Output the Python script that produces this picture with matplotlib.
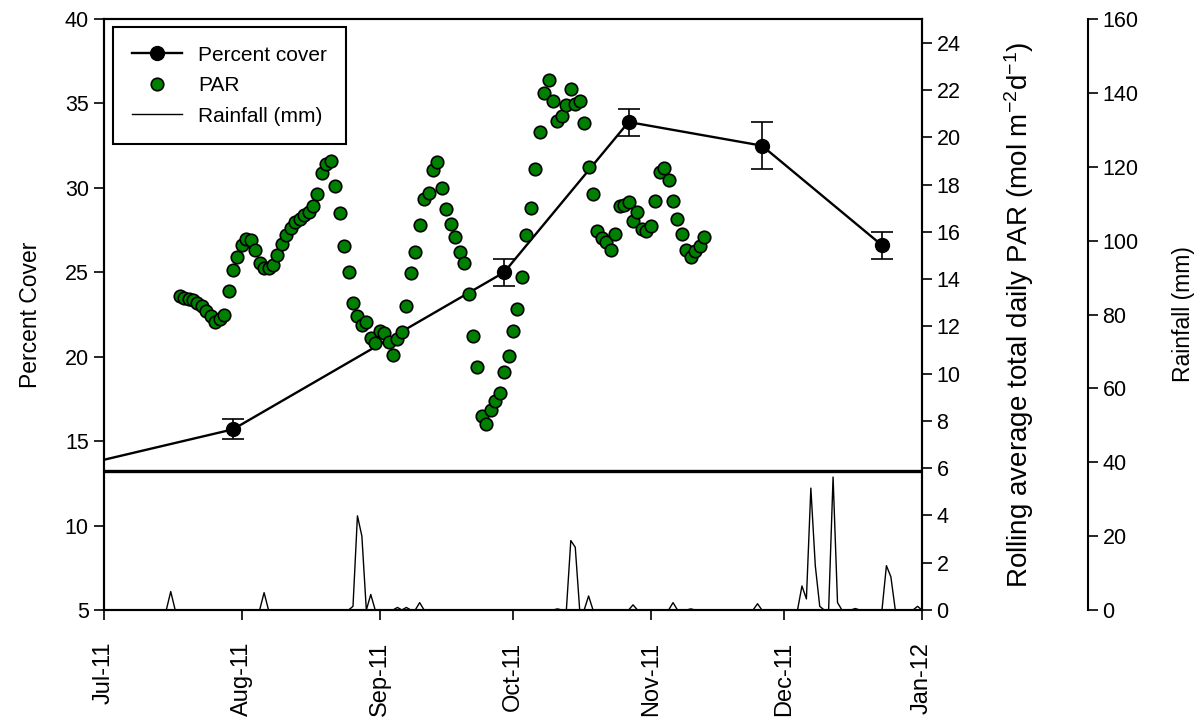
import pandas as pd
import numpy as np
import matplotlib
matplotlib.use('Agg')
import matplotlib.pyplot as plt
import matplotlib.dates as mdates
from matplotlib.lines import Line2D

plt.rcParams['font.family'] = ['Liberation Sans', 'DejaVu Sans']
plt.rcParams['mathtext.default'] = 'regular'

# ── DATA ──────────────────────────────────────────────
# Percent cover (first value only used for the line entering from the left)
cover_dates = ['2011-07-01', '2011-07-30', '2011-09-29', '2011-10-27', '2011-11-26', '2011-12-23']
cover = [13.9, 15.7, 25.0, 33.9, 32.5, 26.6]
cover_err = [0.0, 0.6, 0.8, 0.8, 1.4, 0.8]

# Rolling average total daily PAR, one value per day from 18 Jul 2011
par_start = '2011-07-18'
par = [13.3, 13.2, 13.15, 13.1, 13.0, 12.85, 12.65, 12.45, 12.2, 12.3,
       12.5, 13.5, 14.4, 14.95, 15.45, 15.7, 15.65, 15.25, 14.7, 14.45,
       14.45, 14.6, 15.0, 15.5, 15.85, 16.15, 16.4, 16.55, 16.7, 16.85,
       17.1, 17.6, 18.5, 18.85, 19.0, 17.95, 16.8, 15.4, 14.3, 13.0,
       12.45, 12.05, 12.2, 11.5, 11.3, 11.8, 11.7, 11.35, 10.8, 11.45,
       11.75, 12.85, 14.25, 15.15, 16.3, 17.4, 17.65, 18.6, 18.95, 17.85,
       16.95, 16.35, 15.8, 15.15, 14.7, 13.35, 11.6, 10.3, 8.2, 7.85,
       8.45, 8.85, 9.2, 10.05, 10.75, 11.8, 12.75, 14.1, 15.85, 17.0,
       18.65, 20.2, 21.85, 22.4, 21.55, 20.7, 20.9, 21.35, 22.05, 21.4,
       21.55, 20.6, 18.75, 17.6, 16.05, 15.75, 15.55, 15.25, 15.9, 17.1,
       17.15, 17.25, 16.45, 16.85, 16.1, 16.05, 16.25, 17.3, 18.55, 18.7,
       18.2, 17.3, 16.55, 15.9, 15.25, 14.95, 15.2, 15.4, 15.8]

# Daily rainfall (mm): days with rain, all other days are zero
rain_dates = ['2011-07-16', '2011-08-06', '2011-08-26', '2011-08-27', '2011-08-28',
              '2011-08-30', '2011-09-05', '2011-09-07', '2011-09-10', '2011-10-11',
              '2011-10-14', '2011-10-15', '2011-10-18', '2011-10-28', '2011-11-06',
              '2011-11-10', '2011-11-25', '2011-12-05', '2011-12-06', '2011-12-07',
              '2011-12-08', '2011-12-09', '2011-12-12', '2011-12-13', '2011-12-17',
              '2011-12-24', '2011-12-25', '2011-12-31']
rain_mm = [5.0, 4.7, 1.0, 25.5, 20.0,
           4.2, 0.7, 0.7, 2.0, 0.3,
           18.8, 17.0, 3.8, 1.4, 2.0,
           0.3, 1.7, 6.5, 3.0, 33.0,
           12.0, 1.0, 36.0, 2.0, 0.4,
           12.0, 9.0, 1.0]

# ── PREP ──────────────────────────────────────────────
cover_dates = pd.to_datetime(cover_dates)
par_dates = pd.date_range(par_start, periods=len(par), freq='D')
all_days = pd.date_range('2011-07-01', '2012-01-01', freq='D')
rain = pd.Series(rain_mm, index=pd.to_datetime(rain_dates)).reindex(all_days, fill_value=0.0)

TICK_FS = 15.5
LABEL_FS = 16.5

# ── PLOT ──────────────────────────────────────────────
fig = plt.figure(figsize=(12.03, 7.18), dpi=100)
ax = fig.add_axes([0.0865, 0.1504, 0.6799, 0.8231])
ax2 = ax.twinx()
ax3 = ax.twinx()

# percent cover
ax.plot(cover_dates, cover, color='black', lw=1.7, marker='o', markersize=10,
        markevery=list(range(1, len(cover))), zorder=3)
ax.errorbar(cover_dates[1:], cover[1:], yerr=cover_err[1:], fmt='none',
            ecolor='black', elinewidth=1.2, capsize=8, capthick=1.2, zorder=3)
ax.axhline(13.25, color='black', lw=2.4, zorder=2)

ax.set_ylim(5, 40)
ax.set_yticks(range(5, 41, 5))
ax.set_ylabel('Percent Cover', fontsize=LABEL_FS, labelpad=16)
ax.set_xlim(pd.Timestamp('2011-07-01'), pd.Timestamp('2012-01-01'))
ax.xaxis.set_major_locator(mdates.MonthLocator())
ax.xaxis.set_major_formatter(mdates.DateFormatter('%b-%y'))
ax.tick_params(axis='both', direction='out', length=7, width=1.2, labelsize=TICK_FS, pad=4)
ax.tick_params(axis='x', pad=16, labelsize=17)
plt.setp(ax.get_xticklabels(), rotation=90, ha='center', va='top')
for s in ax.spines.values():
    s.set_linewidth(1.5)

# PAR
ax2.plot(par_dates, par, linestyle='none', marker='o', markersize=9,
         markerfacecolor='#008000', markeredgecolor='black', markeredgewidth=1.2)
ax2.set_ylim(0, 25)
ax2.set_yticks(range(0, 25, 2))
ax2.tick_params(axis='y', direction='out', length=7, width=1.2, labelsize=TICK_FS)
ax2.set_ylabel('Rolling average total daily PAR (mol m$^{-2}$d$^{-1}$)',
               fontsize=20, labelpad=30)
for s in ax2.spines.values():
    s.set_linewidth(1.5)

# rainfall
ax3.plot(rain.index, rain.values, color='black', lw=1.0)
ax3.set_ylim(0, 160)
ax3.set_yticks(range(0, 161, 20))
ax3.spines['right'].set_position(('axes', 1.203))
ax3.spines['right'].set_linewidth(1.5)
for side in ['top', 'left', 'bottom']:
    ax3.spines[side].set_visible(False)
ax3.tick_params(axis='y', direction='out', length=7, width=1.2, labelsize=TICK_FS)
ax3.set_ylabel('Rainfall (mm)', fontsize=LABEL_FS, labelpad=24)

handles = [
    Line2D([], [], color='black', lw=1.7, marker='o', markersize=10),
    Line2D([], [], linestyle='none', marker='o', markersize=9,
           markerfacecolor='#008000', markeredgecolor='black', markeredgewidth=1.2),
    Line2D([], [], color='black', lw=1.0),
]
leg = ax3.legend(handles, ['Percent cover', 'PAR', 'Rainfall (mm)'],
                 loc='upper left', bbox_to_anchor=(0.011, 0.9865), borderaxespad=0,
                 fontsize=15, handlelength=2.4, handletextpad=0.8,
                 labelspacing=0.55, borderpad=0.9,
                 fancybox=False, framealpha=1, edgecolor='black')
leg.get_frame().set_linewidth(1.5)

plt.savefig('out.png', dpi=100)
